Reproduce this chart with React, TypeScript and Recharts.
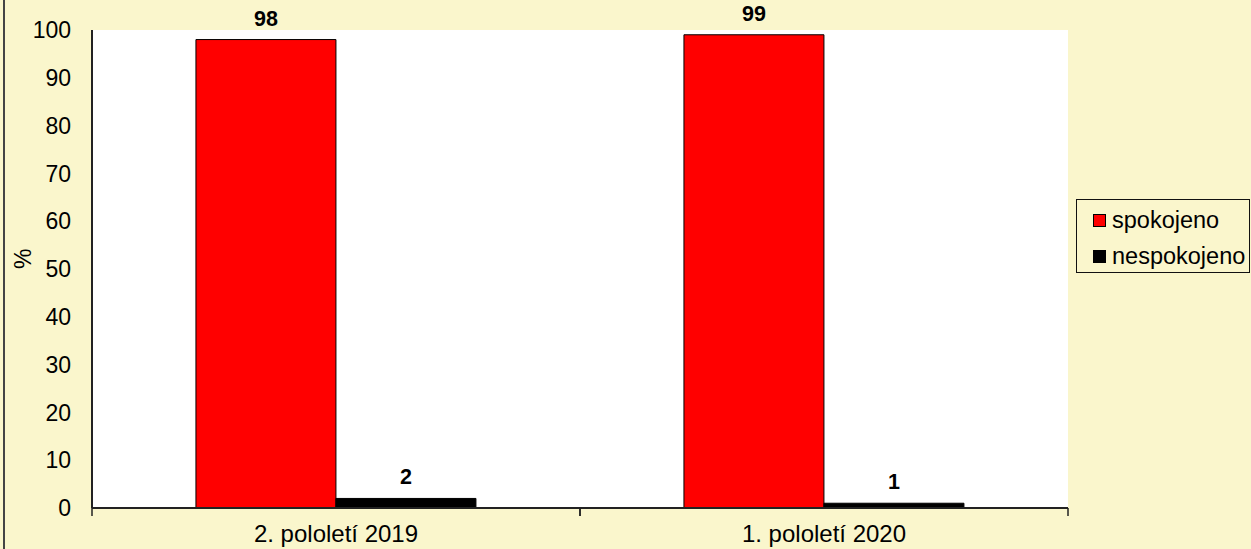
import React from 'react';
import { BarChart, Bar, XAxis, YAxis, CartesianGrid, LabelList, Label } from 'recharts';

const categories = ['2. pololetí 2019', '1. pololetí 2020'];
const spokojeno = [98, 99];
const nespokojeno = [2, 1];
const yTicks = [0, 10, 20, 30, 40, 50, 60, 70, 80, 90, 100];
const legendItems = [
  { label: 'spokojeno', color: '#FF0000' },
  { label: 'nespokojeno', color: '#000000' },
];

const data = categories.map((c, i) => ({
  name: c,
  spokojeno: spokojeno[i],
  nespokojeno: nespokojeno[i],
}));

const FONT = '"Liberation Sans", Arial, sans-serif';
const BG = '#FAF6CC';

// category label plus the boundary tick marks Excel draws between categories
const CategoryTick = (props: any) => {
  const { x, y, payload } = props;
  const half = payload && payload.offset ? payload.offset : 244;
  const axisY = y - 17;
  return (
    <g>
      <line x1={x - half} y1={axisY} x2={x - half} y2={axisY + 8} stroke="#222" strokeWidth={1.5} />
      <line x1={x + half} y1={axisY} x2={x + half} y2={axisY + 8} stroke="#222" strokeWidth={1.5} />
      <text x={x} y={y} dy="0.71em" textAnchor="middle" fontSize={24} fill="#000" fontFamily={FONT}>
        {payload.value}
      </text>
    </g>
  );
};

function ChartLegend() {
  return (
    <div
      style={{
        position: 'absolute',
        left: 1076,
        top: 199,
        width: 174,
        height: 74,
        border: '1.5px solid #111',
        background: BG,
        boxSizing: 'border-box',
        paddingTop: 5,
      }}
    >
      {legendItems.map((it) => (
        <div key={it.label} style={{ display: 'flex', alignItems: 'center', height: 30, marginBottom: 6, paddingLeft: 16 }}>
          <span style={{ width: 11, height: 11, background: it.color, border: '1px solid #000', marginRight: 6, display: 'inline-block' }} />
          <span style={{ fontSize: 23.5, fontFamily: FONT, color: '#000', lineHeight: '30px' }}>{it.label}</span>
        </div>
      ))}
    </div>
  );
}

const valueLabelStyle = { fontSize: 21.5, fontWeight: 'bold', fill: '#000', fontFamily: FONT };

export default function App() {
  return (
    <div style={{ position: 'fixed', left: 0, top: 0, width: 1251, height: 549, background: BG, overflow: 'hidden' }}>
      <div style={{ position: 'absolute', left: 3, top: 0, width: 2, height: 549, background: '#444' }} />
      <BarChart
        width={1251}
        height={549}
        data={data}
        margin={{ top: 30, right: 183, bottom: 0, left: 0 }}
        barCategoryGap="21.3%"
        barGap={0}
        style={{ fontFamily: FONT }}
      >
        <CartesianGrid fill="#FFFFFF" horizontal={false} vertical={false} />
        <XAxis
          dataKey="name"
          height={41}
          tickLine={false}
          tickSize={0}
          tickMargin={17}
          axisLine={{ stroke: '#222', strokeWidth: 2 }}
          tick={<CategoryTick />}
          interval={0}
        />
        <XAxis xAxisId="top" dataKey="name" orientation="top" height={0} tick={false} tickLine={false} axisLine={{ stroke: '#222', strokeWidth: 2 }} />
        <YAxis
          domain={[0, 100]}
          ticks={yTicks}
          width={92}
          tickLine={false}
          tickSize={0}
          tickMargin={21}
          axisLine={{ stroke: '#222', strokeWidth: 2 }}
          tick={{ fontSize: 23, fill: '#000', fontFamily: FONT }}
          interval={0}
        >
          <Label value="%" angle={-90} position="insideLeft" offset={23} style={{ fontSize: 23, fill: '#000', fontFamily: FONT }} />
        </YAxis>
        <YAxis yAxisId="right" orientation="right" width={0} domain={[0, 100]} tick={false} tickLine={false} axisLine={{ stroke: '#222', strokeWidth: 2 }} />
        <Bar dataKey="spokojeno" fill="#FF0000" stroke="#000" strokeWidth={1} isAnimationActive={false}>
          <LabelList dataKey="spokojeno" position="top" offset={14} style={valueLabelStyle} />
        </Bar>
        <Bar dataKey="nespokojeno" fill="#000000" stroke="#000" strokeWidth={1} isAnimationActive={false}>
          <LabelList dataKey="nespokojeno" position="top" offset={14} style={valueLabelStyle} />
        </Bar>
      </BarChart>
      <ChartLegend />
    </div>
  );
}
